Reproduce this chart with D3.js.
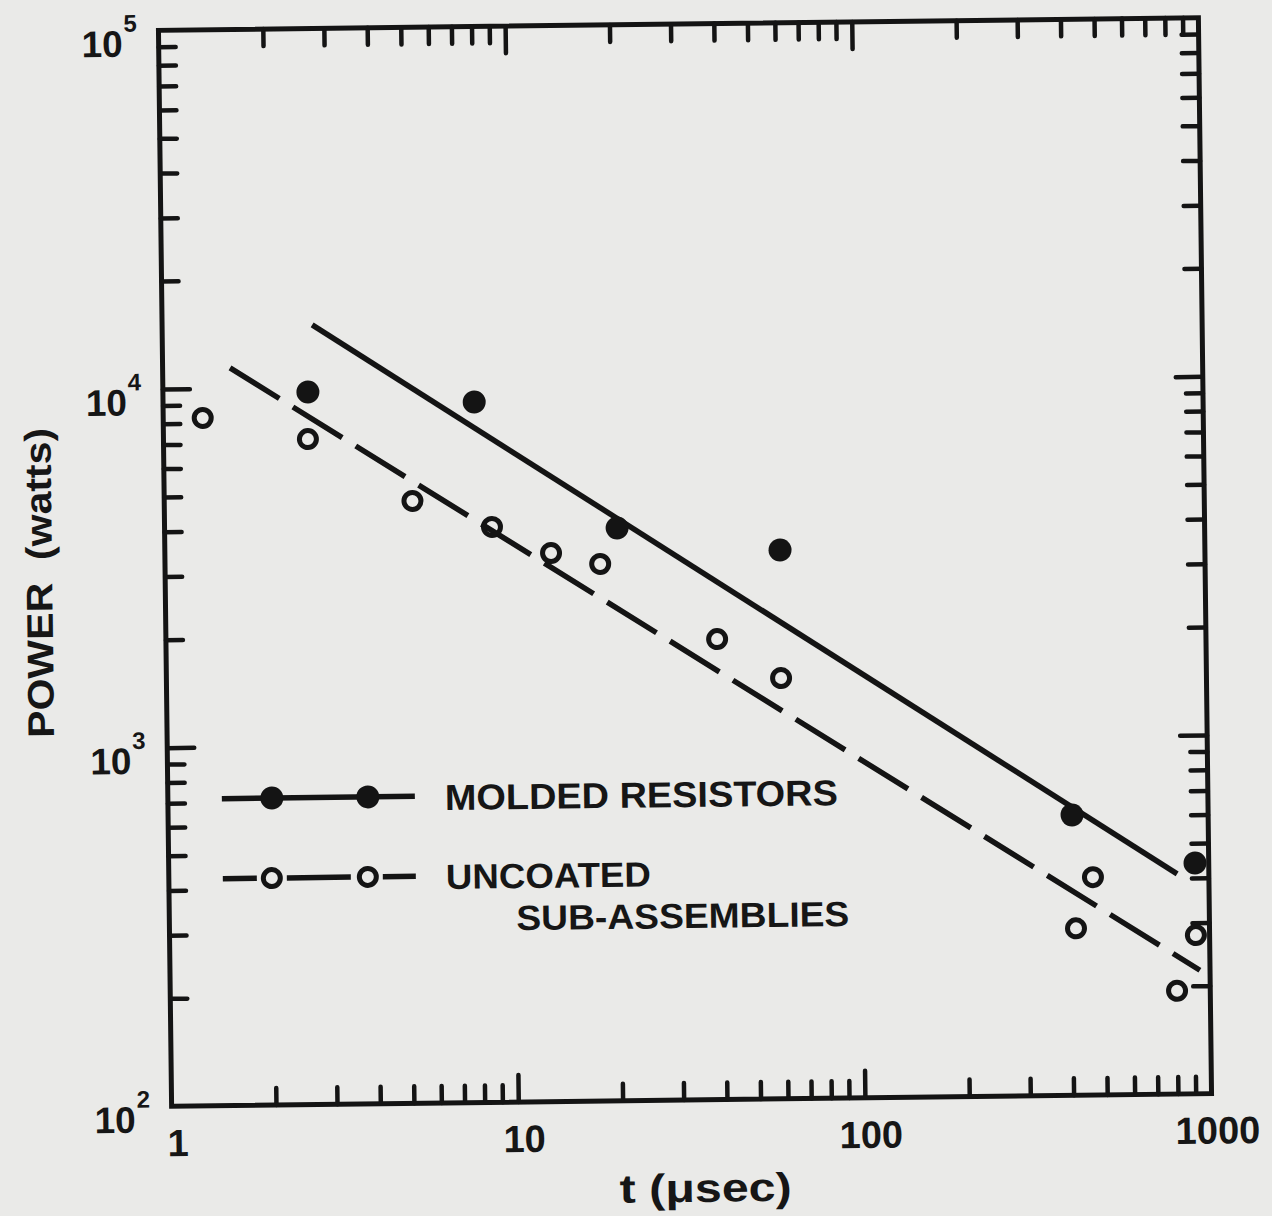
<!DOCTYPE html>
<html>
<head>
<meta charset="utf-8">
<script src="https://cdn.jsdelivr.net/npm/d3@7"></script>
<style>
  body { margin: 0; background: #eaeae8; }
  svg { display: block; }
  text { font-family: "Liberation Sans", Arial, sans-serif; font-weight: bold; fill: #161616; }
</style>
</head>
<body>
<div id="chart"></div>
<script>
// molded resistors (filled dots)
let moldedT = [2.62, 7.9, 20.2, 59.5, 405, 913]
let moldedP = [9700, 8980, 3955, 3390, 605, 440]
// uncoated sub-assemblies (open dots)
let uncoatedT = [1.30, 2.61, 5.2, 8.8, 13.0, 18.0, 38.9, 59.3, 463, 412, 913, 802]
let uncoatedP = [8280, 7170, 4780, 4020, 3385, 3143, 1923, 1490, 405, 292, 277, 194]
// hand drawn fit lines (end points)
let moldedFitT = [2.71, 810]
let moldedFitP = [14920, 411]
let uncoatedFitT = [1.565, 935]
let uncoatedFitP = [11390, 221]
// tick labels
let xTickValues = [1, 10, 100, 1000]
let xTickLabels = ["1", "10", "100", "1000"]
let yTickValues = [100, 1000, 10000, 100000]
let yTickExps = ["2", "3", "4", "5"]
let legendNames = ["MOLDED RESISTORS", "UNCOATED", "SUB-ASSEMBLIES"]

let width = 1272,
    height = 1216
let ink = "#141414"

let svg = d3.select("#chart").append("svg")
    .attr("width", width)
    .attr("height", height)

// the scan is turned a little, so turn the whole chart with it
let g = svg.append("g")
    .attr("transform", "rotate(-0.7, 685, 562)")

let x = d3.scaleLog()
    .domain([1, 1000])
    .range([165, 1205])

let y = d3.scaleLog()
    .domain([100, 100000])
    .range([1100, 24])

let isDecade = d => Math.abs(Math.log10(d) - Math.round(Math.log10(d))) < 1e-6
let xMinor = x.ticks().filter(d => !isDecade(d))
let xMajor = x.ticks().filter(d => isDecade(d) && d > 1 && d < 1000)
let yMinor = y.ticks().filter(d => !isDecade(d))
let yMajor = y.ticks().filter(d => isDecade(d) && d > 100 && d < 100000)

// ticks pointing into the plot on all four sides
function ticks(axis, values, len, tx, ty) {
  let a = g.append("g")
      .attr("transform", "translate(" + tx + "," + ty + ")")
      .call(axis.tickValues(values).tickSize(-len).tickFormat(""))
  a.select(".domain").remove()
  a.selectAll("line")
      .attr("stroke", ink)
      .attr("stroke-width", 4.5)
      .attr("stroke-linecap", "round")
}
ticks(d3.axisBottom(x), xMinor, 17, 0, y.range()[0])
ticks(d3.axisBottom(x), xMajor, 27, 0, y.range()[0])
ticks(d3.axisTop(x), xMinor, 17, 0, y.range()[1])
ticks(d3.axisTop(x), xMajor, 27, 0, y.range()[1])
ticks(d3.axisLeft(y), yMinor, 17, x.range()[0], 0)
ticks(d3.axisLeft(y), yMajor, 27, x.range()[0], 0)
ticks(d3.axisRight(y), yMinor, 17, x.range()[1], 0)
ticks(d3.axisRight(y), yMajor, 27, x.range()[1], 0)

// frame
g.append("rect")
    .attr("x", x.range()[0])
    .attr("y", y.range()[1])
    .attr("width", x.range()[1] - x.range()[0])
    .attr("height", y.range()[0] - y.range()[1])
    .attr("fill", "none")
    .attr("stroke", ink)
    .attr("stroke-width", 5)

// x tick labels
g.selectAll(".xlab")
  .data(xTickValues)
  .enter().append("text")
    .attr("class", "xlab")
    .attr("x", d => x(d) + 6)
    .attr("y", y.range()[0] + 50)
    .attr("text-anchor", "middle")
    .attr("font-size", 38)
    .text((d, i) => xTickLabels[i])

// y tick labels, 10 with a raised exponent
let ylab = g.selectAll(".ylab")
  .data(yTickValues)
  .enter().append("g")
    .attr("class", "ylab")
    .attr("transform", d => "translate(" + (x.range()[0] - 36) + "," + (y(d) + 26) + ")")
ylab.append("text")
    .attr("text-anchor", "end")
    .attr("font-size", 37)
    .text("10")
ylab.append("text")
    .attr("x", 1)
    .attr("y", -25)
    .attr("font-size", 24)
    .text((d, i) => yTickExps[i])

// axis titles
g.append("text")
    .attr("transform", "translate(52,575) rotate(-90)")
    .attr("text-anchor", "middle")
    .attr("font-size", 37)
    .attr("textLength", 310)
    .attr("lengthAdjust", "spacingAndGlyphs")
    .style("white-space", "pre")
    .text("POWER  (watts)")

g.append("text")
    .attr("x", 698)
    .attr("y", 1202)
    .attr("text-anchor", "middle")
    .attr("font-size", 40)
    .attr("textLength", 172)
    .attr("lengthAdjust", "spacingAndGlyphs")
    .text("t (\u03bcsec)")

// fit lines
let line = d3.line()
    .x(d => x(d[0]))
    .y(d => y(d[1]))

g.append("path")
    .datum(d3.zip(moldedFitT, moldedFitP))
    .attr("d", line)
    .attr("fill", "none")
    .attr("stroke", ink)
    .attr("stroke-width", 5.5)

g.append("path")
    .datum(d3.zip(uncoatedFitT, uncoatedFitP))
    .attr("d", line)
    .attr("fill", "none")
    .attr("stroke", ink)
    .attr("stroke-width", 5.5)
    .attr("stroke-dasharray", "58 16")

// points
g.selectAll(".molded")
  .data(d3.zip(moldedT, moldedP))
  .enter().append("circle")
    .attr("class", "molded")
    .attr("cx", d => x(d[0]))
    .attr("cy", d => y(d[1]))
    .attr("r", 11.5)
    .attr("fill", ink)

g.selectAll(".uncoated")
  .data(d3.zip(uncoatedT, uncoatedP))
  .enter().append("circle")
    .attr("class", "uncoated")
    .attr("cx", d => x(d[0]))
    .attr("cy", d => y(d[1]))
    .attr("r", 8.5)
    .attr("fill", "none")
    .attr("stroke", ink)
    .attr("stroke-width", 5)

// legend
let key = g.append("g")
    .attr("transform", "translate(219,793)")

key.append("line")
    .attr("x1", 0).attr("x2", 193)
    .attr("stroke", ink)
    .attr("stroke-width", 5.5)
key.selectAll(".kf")
  .data([50, 146])
  .enter().append("circle")
    .attr("cx", d => d)
    .attr("r", 11.5)
    .attr("fill", ink)

key.selectAll(".kd")
  .data([[0, 34], [64, 128], [160, 193]])
  .enter().append("line")
    .attr("x1", d => d[0]).attr("x2", d => d[1])
    .attr("y1", 80).attr("y2", 80)
    .attr("stroke", ink)
    .attr("stroke-width", 5.5)
key.selectAll(".ko")
  .data([49, 145])
  .enter().append("circle")
    .attr("cx", d => d)
    .attr("cy", 80)
    .attr("r", 8.5)
    .attr("fill", "none")
    .attr("stroke", ink)
    .attr("stroke-width", 5)

key.append("text")
    .attr("x", 223)
    .attr("y", 14)
    .attr("font-size", 36)
    .attr("textLength", 393)
    .attr("lengthAdjust", "spacingAndGlyphs")
    .text(legendNames[0])
key.append("text")
    .attr("x", 223)
    .attr("y", 93)
    .attr("font-size", 35)
    .attr("textLength", 205)
    .attr("lengthAdjust", "spacingAndGlyphs")
    .text(legendNames[1])
key.append("text")
    .attr("x", 293)
    .attr("y", 135)
    .attr("font-size", 35)
    .attr("textLength", 333)
    .attr("lengthAdjust", "spacingAndGlyphs")
    .text(legendNames[2])
</script>
</body>
</html>
